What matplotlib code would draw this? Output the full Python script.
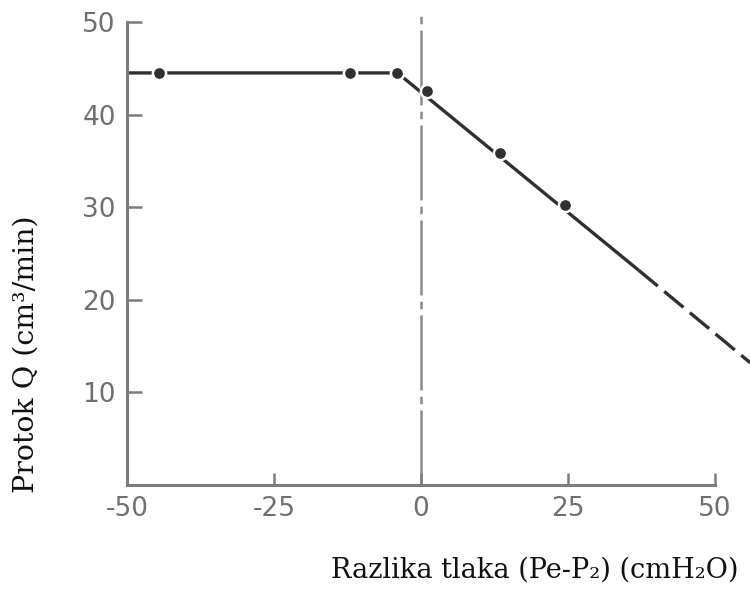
import matplotlib.pyplot as plt

# Measured points (pressure difference vs flow)
pressure = [-44.5, -12, -4, 1, 13.5, 24.5]
flow = [44.5, 44.5, 44.5, 42.5, 35.8, 30.2]

# Drawn fit line: flat part + solid slope, then dashed extrapolation
fit_x = [-50, -4, 37]
fit_y = [44.5, 44.5, 23.2]
extra_x = [37, 56]
extra_y = [23.2, 13.2]

# Vertical reference line at zero pressure difference
zero_x = [0, 0]
zero_y = [0, 50.7]

x_ticks = [-50, -25, 0, 25, 50]
x_tick_labels = ["-50", "-25", "0", "25", "50"]
y_ticks = [10, 20, 30, 40, 50]
y_tick_labels = ["10", "20", "30", "40", "50"]

ink = "#303030"
grey = "#7c7c7c"

fig = plt.figure(figsize=(7.5, 5.9), dpi=100)
ax = fig.add_axes([127 / 750, 105 / 590, 588 / 750, 463 / 590])

ax.plot(zero_x, zero_y, color="#8a8a8a", lw=1.8, dashes=(30, 2.5, 3, 2.5),
        clip_on=False, zorder=1)
ax.plot(fit_x, fit_y, color=ink, lw=2.4, solid_capstyle="butt", clip_on=False, zorder=2)
ax.plot(extra_x, extra_y, color=ink, lw=2.4, dashes=(7.5, 2.5), clip_on=False, zorder=2)
ax.plot(pressure, flow, "o", ms=9.5, mfc=ink, mec="white", mew=1.8,
        clip_on=False, zorder=3)

ax.set_xlim(-50, 50)
ax.set_ylim(0, 50)

for side in ["top", "right"]:
    ax.spines[side].set_visible(False)
for side in ["left", "bottom"]:
    ax.spines[side].set_color(grey)
    ax.spines[side].set_linewidth(2.2)

ax.set_xticks(x_ticks)
ax.set_xticklabels(x_tick_labels)
ax.set_yticks(y_ticks)
ax.set_yticklabels(y_tick_labels)
ax.tick_params(axis="both", direction="in", color=grey, width=1.8,
               labelcolor="#707070", labelsize=19)
ax.tick_params(axis="y", length=11, pad=8)
ax.tick_params(axis="x", length=9, pad=8)

serif = ["DejaVu Serif"]
ax.set_xlabel("Razlika tlaka (Pe-P₂) (cmH₂O)", family=serif, fontsize=19.5,
              color="#111111", va="center", ha="center")
ax.xaxis.set_label_coords(0.694, -0.184)
ax.set_ylabel("Protok Q (cm³/min)", family=serif, fontsize=20.5,
              color="#111111", va="center", ha="center")
ax.yaxis.set_label_coords(-0.172, 0.283)

fig.savefig("out.png", dpi=100)
